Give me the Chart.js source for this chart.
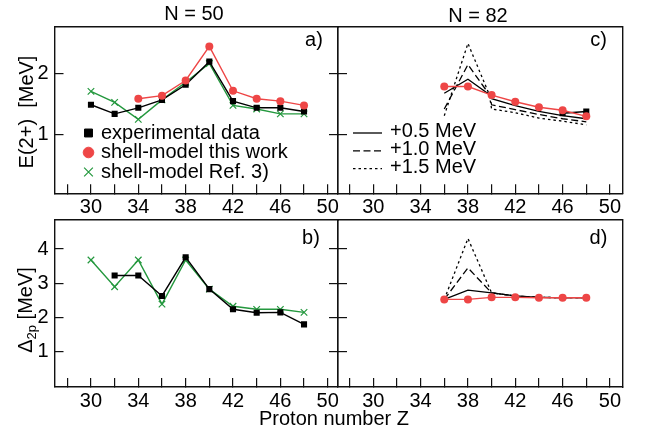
<!DOCTYPE html>
<html><head><meta charset="utf-8">
<script src="https://cdn.jsdelivr.net/npm/chart.js@4/dist/chart.umd.min.js"></script>
<style>
html,body{margin:0;padding:0;background:#fff;}
#wrap{position:relative;width:648px;height:434px;}
#wrap canvas{position:absolute;left:0;top:0;}
</style>
</head><body>
<div id="wrap">
<canvas id="ca" width="648" height="434"></canvas>
<canvas id="cb" width="648" height="434"></canvas>
<canvas id="cc" width="648" height="434"></canvas>
<canvas id="cd" width="648" height="434"></canvas>
</div>
<script>
// ---------------- data ----------------
const xTickVals = [28,30,32,34,36,38,40,42,44,46,48,50];
const xLabelVals = [30,34,38,42,46,50];
const yTicksE2 = [1,2];
const yTicksD2p = [1,2,3,4];

// a) N = 50, E(2+)
const zExpA = [30,32,34,36,38,40,42,44,46,48];
const e2ExpA = [1.49,1.34,1.44,1.57,1.82,2.20,1.55,1.44,1.44,1.38];
const zSmA = [34,36,38,40,42,44,46,48];
const e2SmA = [1.59,1.64,1.89,2.45,1.72,1.59,1.55,1.48];
const zRefA = [30,32,34,36,38,40,42,44,46,48];
const e2RefA = [1.71,1.53,1.25,1.57,1.86,2.17,1.48,1.42,1.34,1.34];

// b) N = 50, Delta_2p
const zExpB = [32,34,36,38,40,42,44,46,48];
const d2pExpB = [3.23,3.23,2.63,3.76,2.83,2.24,2.14,2.15,1.80];
const zRefB = [30,32,34,36,38,40,42,44,46,48];
const d2pRefB = [3.68,2.90,3.68,2.39,3.68,2.83,2.33,2.24,2.24,2.15];

// c) N = 82, E(2+)
const zExpC = [46,48];
const e2ExpC = [1.35,1.38];
const zSmC = [36,38,40,42,44,46,48];
const e2SmC = [1.79,1.79,1.65,1.54,1.45,1.40,1.30];
const zShiftC = [36,38,39.8,40,42,44,46,48];
const e2Shift05 = [1.68,1.91,1.66,1.59,1.475,1.38,1.31,1.26];
const e2Shift10 = [1.42,2.15,1.66,1.49,1.41,1.33,1.26,1.21];
const e2Shift15 = [1.31,2.50,1.66,1.42,1.36,1.27,1.22,1.16];

// d) N = 82, Delta_2p
const zSmD = [36,38,40,42,44,46,48];
const d2pSmD = [2.53,2.53,2.59,2.59,2.58,2.58,2.58];
const zShiftD = [36,38,40,42,44,46,48];
const d2pShift05 = [2.53,2.80,2.72,2.63,2.59,2.58,2.58];
const d2pShift10 = [2.53,3.45,2.72,2.63,2.59,2.58,2.58];
const d2pShift15 = [2.53,4.31,2.72,2.63,2.59,2.58,2.58];

const labelExp = 'experimental data';
const labelSm = 'shell-model this work';
const labelRef = 'shell-model Ref. 3)';
const labelS05 = '+0.5 MeV';
const labelS10 = '+1.0 MeV';
const labelS15 = '+1.5 MeV';

// ---------------- styling ----------------
const FONT = '"Liberation Sans", Arial, Helvetica, sans-serif';
const RED = '#ee4646';
const GREEN = '#24983e';
const BLACK = '#000';
const AX = '#111';

function pts(xs, ys){ return xs.map((x,i)=>({x:x, y:ys[i]})); }

function expDs(xs, ys){
  return {label:labelExp, data:pts(xs,ys), borderColor:BLACK, borderWidth:1.4,
    pointStyle:'rect', pointRadius:4.3, pointBackgroundColor:BLACK, pointBorderColor:BLACK, pointBorderWidth:0};
}
function smDs(xs, ys){
  return {label:labelSm, data:pts(xs,ys), borderColor:RED, borderWidth:1.4,
    pointStyle:'circle', pointRadius:4, pointBackgroundColor:RED, pointBorderColor:RED, pointBorderWidth:0};
}
function refDs(xs, ys){
  return {label:labelRef, data:pts(xs,ys), borderColor:GREEN, borderWidth:1.4,
    pointStyle:'crossRot', pointRadius:4.6, pointBackgroundColor:GREEN, pointBorderColor:GREEN, pointBorderWidth:1.2};
}
function shiftDs(label, xs, ys, dash){
  return {label:label, data:pts(xs,ys), borderColor:BLACK, borderWidth:1.3, borderDash:dash,
    pointRadius:0, pointStyle:'line'};
}

function scales(o){
  const tl = -9;
  const lineGrid = {drawOnChartArea:false, drawTicks:true, tickLength:tl, color:AX, lineWidth:1.2};
  const border = {display:true, color:AX, width:1.4};
  const tickFont = {family:FONT, size:20};
  return {
    x: {type:'linear', position:'bottom', min:o.xmin, max:o.xmax,
      afterBuildTicks: s => { s.ticks = xTickVals.map(v => ({value:v})); },
      afterFit: s => { s.height = 30; },
      grid: lineGrid, border: border,
      ticks: {autoSkip:false, maxRotation:0, minRotation:0, padding:11, color:'#000', font:tickFont,
        callback: v => xLabelVals.includes(v) ? String(v) : ''}},
    xt: {type:'linear', position:'top', min:o.xmin, max:o.xmax,
      afterFit: s => { s.height = 0; },
      grid: {display:false}, border: border, ticks:{display:false}},
    y: {type:'linear', position:'left', min:o.ymin, max:o.ymax,
      afterBuildTicks: s => { s.ticks = o.yTicks.map(v => ({value:v})); },
      afterFit: s => { s.width = o.leftW; },
      grid: lineGrid, border: border,
      ticks: {display:o.yLabels, padding:15, color:'#000', font:tickFont, callback: v => String(v)}},
    yr: {type:'linear', position:'right', min:o.ymin, max:o.ymax,
      afterBuildTicks: s => { s.ticks = o.yTicks.map(v => ({value:v})); },
      afterFit: s => { s.width = 0; },
      grid: o.rightTicks ? lineGrid : {display:false}, border: border,
      ticks: {display:false}}
  };
}

// marker / line legend drawn from dataset styles
function drawMarker(ctx, style, r, x, y){
  if (Chart.helpers && Chart.helpers.drawPoint) {
    Chart.helpers.drawPoint(ctx, {pointStyle:style, radius:r, rotation:0, borderWidth:ctx.lineWidth}, x, y);
    return;
  }
  ctx.beginPath();
  if (style === 'rect') { const h = r*Math.SQRT1_2; ctx.rect(x-h, y-h, 2*h, 2*h); ctx.fill(); }
  else if (style === 'circle') { ctx.arc(x, y, r, 0, Math.PI*2); ctx.fill(); }
  else { const h = r*Math.SQRT1_2; ctx.moveTo(x-h,y-h); ctx.lineTo(x+h,y+h); ctx.moveTo(x+h,y-h); ctx.lineTo(x-h,y+h); ctx.stroke(); }
}

const legendPlugin = {
  id: 'panelLegend',
  afterDraw(chart, args, opts){
    if (!opts || !opts.items) return;
    const ctx = chart.ctx;
    ctx.save();
    opts.items.forEach((it, i) => {
      const ds = chart.data.datasets[it.ds];
      const y = opts.y + i*opts.dy;
      if (opts.kind === 'marker') {
        ctx.fillStyle = ds.pointBackgroundColor;
        ctx.strokeStyle = ds.pointBorderColor;
        ctx.lineWidth = ds.pointBorderWidth || 1;
        ctx.setLineDash([]);
        drawMarker(ctx, ds.pointStyle, it.r, opts.x, y + (it.dy || 0));
      } else {
        ctx.strokeStyle = ds.borderColor;
        ctx.lineWidth = ds.borderWidth;
        ctx.setLineDash(ds.borderDash || []);
        ctx.beginPath();
        ctx.moveTo(opts.x, y + 1.5);
        ctx.lineTo(opts.x2, y + 1.5);
        ctx.stroke();
        ctx.setLineDash([]);
      }
      ctx.fillStyle = '#000';
      ctx.font = opts.size + 'px ' + FONT;
      ctx.textAlign = 'left';
      ctx.textBaseline = 'middle';
      ctx.fillText(ds.label, opts.tx, y);
    });
    ctx.restore();
  }
};

const textPlugin = {
  id: 'panelTexts',
  afterDraw(chart, args, opts){
    if (!opts || !opts.items) return;
    const ctx = chart.ctx;
    ctx.save();
    ctx.fillStyle = '#000';
    ctx.textBaseline = 'middle';
    opts.items.forEach(t => {
      const parts = t.parts || [{t:t.text, size:t.size || 20, dy:0}];
      let total = 0;
      parts.forEach(p => { ctx.font = p.size + 'px ' + FONT; p.w = ctx.measureText(p.t).width; total += p.w; });
      ctx.save();
      ctx.translate(t.x, t.y);
      if (t.rotate) ctx.rotate(-Math.PI/2);
      let cx = -total/2;
      parts.forEach(p => {
        ctx.font = p.size + 'px ' + FONT;
        ctx.textAlign = 'left';
        ctx.fillText(p.t, cx, p.dy || 0);
        cx += p.w;
      });
      ctx.restore();
    });
    ctx.restore();
  }
};

function makeChart(id, datasets, sc, pad, plugOpts){
  return new Chart(document.getElementById(id), {
    type: 'line',
    data: {datasets: datasets},
    options: {
      responsive:false, animation:false, events:[],
      parsing: true,
      layout: {padding: pad, autoPadding:false},
      elements: {line:{tension:0, fill:false}},
      scales: sc,
      plugins: Object.assign({legend:{display:false}, tooltip:{enabled:false}}, plugOpts)
    },
    plugins: [legendPlugin, textPlugin]
  });
}

const TOP = {ymin:0.033, ymax:2.77, yTicks:yTicksE2};
const BOT = {ymin:-0.03, ymax:4.85, yTicks:yTicksD2p};
const LEFTX = {xmin:26.92, xmax:50.87};
const RIGHTX = {xmin:27.02, xmax:51.06};

// a)
makeChart('ca',
  [smDs(zSmA, e2SmA), expDs(zExpA, e2ExpA), refDs(zRefA, e2RefA)],
  scales(Object.assign({}, TOP, LEFTX, {leftW:40, yLabels:true, rightTicks:true})),
  {left:14.5, top:27, right:310, bottom:210.7},
  {
    panelLegend: {kind:'marker', x:88.5, tx:101, y:133, dy:19.5, size:20,
      items:[{ds:1, r:5.6}, {ds:0, r:5.3}, {ds:2, r:6.2}]},
    panelTexts: {items:[
      {text:'N = 50', x:194, y:14, size:20},
      {text:'a)', x:314, y:40, size:20},
      {text:'E(2+)  [MeV]', x:27, y:112, size:20, rotate:true}
    ]}
  });

// b)
makeChart('cb',
  [expDs(zExpB, d2pExpB), refDs(zRefB, d2pRefB)],
  scales(Object.assign({}, BOT, LEFTX, {leftW:40, yLabels:true, rightTicks:true})),
  {left:14.5, top:220, right:310, bottom:17},
  {
    panelTexts: {items:[
      {text:'b)', x:311, y:238, size:20},
      {x:26, y:310, rotate:true, parts:[{t:'\u0394', size:20, dy:0}, {t:'2p', size:13, dy:6}, {t:' [MeV]', size:20, dy:0}]},
      {text:'Proton number Z', x:334, y:419, size:20}
    ]}
  });

// c)
makeChart('cc',
  [smDs(zSmC, e2SmC), expDs(zExpC, e2ExpC),
   shiftDs(labelS05, zShiftC, e2Shift05, []),
   shiftDs(labelS10, zShiftC, e2Shift10, [7,3.5]),
   shiftDs(labelS15, zShiftC, e2Shift15, [2.5,3])],
  scales(Object.assign({}, TOP, RIGHTX, {leftW:0, yLabels:false, rightTicks:false})),
  {left:338, top:27, right:25.5, bottom:210.7},
  {
    panelLegend: {kind:'line', x:353, x2:382, tx:390, y:131.5, dy:17.8, size:20,
      items:[{ds:2}, {ds:3}, {ds:4}]},
    panelTexts: {items:[
      {text:'N = 82', x:478, y:16, size:20},
      {text:'c)', x:598.5, y:40, size:20}
    ]}
  });

// d)
makeChart('cd',
  [smDs(zSmD, d2pSmD),
   shiftDs(labelS05, zShiftD, d2pShift05, []),
   shiftDs(labelS10, zShiftD, d2pShift10, [7,3.5]),
   shiftDs(labelS15, zShiftD, d2pShift15, [2.5,3])],
  scales(Object.assign({}, BOT, RIGHTX, {leftW:0, yLabels:false, rightTicks:false})),
  {left:338, top:220, right:25.5, bottom:17},
  {
    panelTexts: {items:[
      {text:'d)', x:598.5, y:238, size:20}
    ]}
  });
</script>
</body></html>
